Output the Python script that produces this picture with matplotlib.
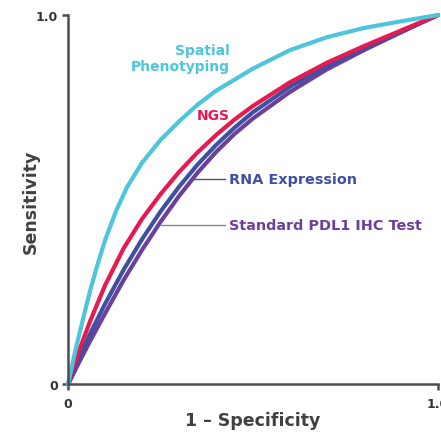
import numpy as np
import matplotlib.pyplot as plt

plt.rcParams['font.family'] = ['DejaVu Sans']

# ROC curves: 1 - specificity (shared) and sensitivity per test
fpr = [0, 0.01, 0.03, 0.06, 0.10, 0.15, 0.20, 0.25, 0.30, 0.35, 0.40, 0.45, 0.50,
       0.60, 0.70, 0.80, 0.90, 1.0]
ngs = [0, 0.032, 0.092, 0.172, 0.268, 0.368, 0.448, 0.515, 0.575, 0.628, 0.675, 0.717,
       0.754, 0.818, 0.871, 0.916, 0.958, 1.0]
rna = [0, 0.025, 0.073, 0.138, 0.218, 0.310, 0.393, 0.468, 0.535, 0.595, 0.648, 0.695,
       0.737, 0.806, 0.862, 0.910, 0.955, 1.0]
pdl1 = [0, 0.020, 0.060, 0.118, 0.192, 0.282, 0.364, 0.440, 0.510, 0.573, 0.629, 0.678,
        0.720, 0.792, 0.853, 0.905, 0.953, 1.0]

# spatial phenotyping curve was read at its own x positions (steeper start)
spatial_x = [0, 0.01, 0.02, 0.04, 0.06, 0.08, 0.10, 0.13, 0.16, 0.20, 0.25, 0.30, 0.35,
             0.40, 0.50, 0.60, 0.70, 0.80, 0.90, 1.0]
spatial = [0, 0.047, 0.092, 0.175, 0.255, 0.325, 0.390, 0.470, 0.535, 0.600, 0.662, 0.712,
           0.757, 0.795, 0.855, 0.905, 0.940, 0.965, 0.983, 1.0]

cyan = '#4DC5DD'
red = '#E8194F'
blue = '#3F4FA1'
purple = '#6A3F9E'
grey = '#4d4d4d'

fig = plt.figure(figsize=(4.41, 4.35), dpi=100)
ax = fig.add_axes([0.1542, 0.1138, 0.8390, 0.8494])

style = dict(lw=3.0, solid_capstyle='round', solid_joinstyle='round', clip_on=False)
ax.plot(fpr, pdl1, color=purple, **style)
ax.plot(fpr, rna, color=blue, **style)
ax.plot(fpr, ngs, color=red, **style)
ax.plot(spatial_x, spatial, color=cyan, **style)

# curve labels
ax.text(0.437, 0.883, 'Spatial\nPhenotyping', color=cyan, fontsize=10, fontweight='bold',
        ha='right', va='center', multialignment='right', linespacing=1.15)
ax.text(0.437, 0.729, 'NGS', color=red, fontsize=10, fontweight='bold', ha='right', va='center')
ax.plot([0.332, 0.423], [0.556, 0.556], color='#555555', lw=1)
ax.text(0.434, 0.556, 'RNA Expression', color=blue, fontsize=10.4, fontweight='bold',
        ha='left', va='center')
ax.plot([0.251, 0.423], [0.432, 0.432], color='#888888', lw=1)
ax.text(0.434, 0.432, 'Standard PDL1 IHC Test', color=purple, fontsize=10.4, fontweight='bold',
        ha='left', va='center')

ax.set_xlim(0, 1)
ax.set_ylim(0, 1)
ax.set_xticks([0, 1])
ax.set_xticklabels(['0', '1.0'])
ax.set_yticks([0, 1])
ax.set_yticklabels(['0', '1.0'])
for s in ['top', 'right']:
    ax.spines[s].set_visible(False)
for s in ['left', 'bottom']:
    ax.spines[s].set_color(grey)
    ax.spines[s].set_linewidth(1.8)
ax.tick_params(colors=grey, width=1.8, length=4, labelsize=9, pad=3)
ax.tick_params(axis='x', pad=5)
for t in ax.get_xticklabels() + ax.get_yticklabels():
    t.set_fontweight('bold')
    t.set_color('#333333')

ax.set_xlabel('1 – Specificity', fontsize=12.5, fontweight='bold', color='#404040', labelpad=1)
ax.set_ylabel('Sensitivity', fontsize=12.5, fontweight='bold', color='#404040')
ax.yaxis.set_label_coords(-0.077, 0.497)

plt.savefig('out.png', dpi=100)
